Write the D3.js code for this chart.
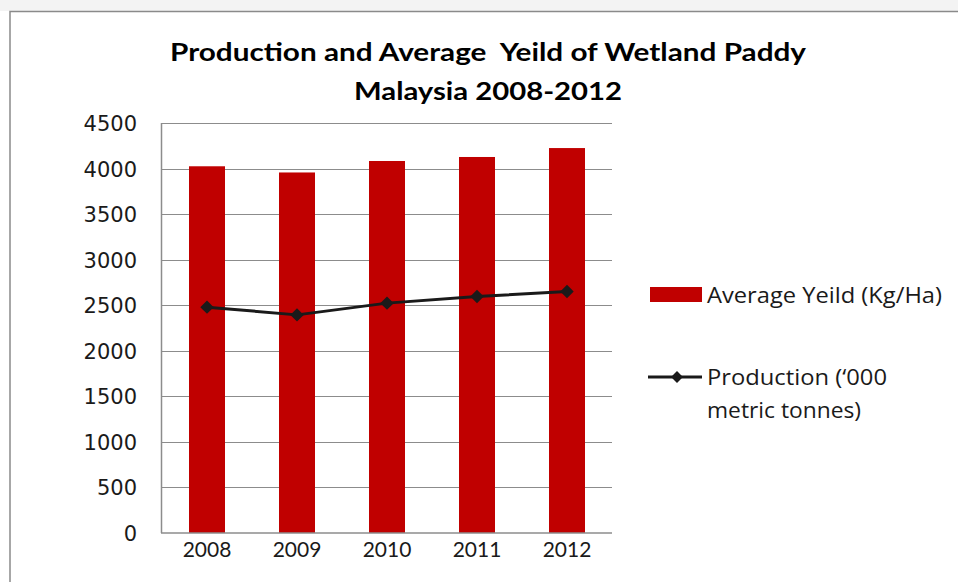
<!DOCTYPE html>
<html>
<head>
<meta charset="utf-8">
<script src="https://cdn.jsdelivr.net/npm/d3@7"></script>
<style>
  html, body { margin: 0; padding: 0; background: #fff; }
  svg { display: block; }
</style>
</head>
<body>
<div id="chart"></div>
<script>
const years = ['2008', '2009', '2010', '2011', '2012'];
const avgYield = [4025, 3957, 4083, 4127, 4225];
const production = [2479, 2394, 2523, 2596, 2651];
const yTicks = [0, 500, 1000, 1500, 2000, 2500, 3000, 3500, 4000, 4500];
const titleLines = ['Production and Average  Yeild of Wetland Paddy', 'Malaysia 2008-2012'];
const legendLabels = ['Average Yeild (Kg/Ha)', ['Production (\u2018000', 'metric tonnes)']];

const W = 958, H = 582;
const RED = '#c00000', GRID = '#8c8c8c', INK = '#1a1a1a';
const TITLE_FONT = 'Lato, "Open Sans", sans-serif';
const TICK_FONT = '"DejaVu Sans", Verdana, sans-serif';
const LEG_FONT = '"Open Sans", "Noto Sans", sans-serif';

const svg = d3.select('#chart').append('svg').attr('width', W).attr('height', H);

// page strip above the chart frame + frame
svg.append('rect').attr('x', 0).attr('y', 0).attr('width', W).attr('height', 11).attr('fill', '#f3f3f3');
svg.append('rect').attr('x', 10).attr('y', 11.5).attr('width', W + 20).attr('height', H + 20)
  .attr('fill', '#fff').attr('stroke', '#8a8a8a').attr('stroke-width', 1.5);

const m = { l: 162, r: 612, t: 123, b: 533 };
const x = d3.scaleBand().domain(years).range([m.l, m.r]).paddingInner(0.6).paddingOuter(0.3);
const y = d3.scaleLinear().domain([0, 4500]).range([m.b, m.t]);

// title
svg.append('g').selectAll('text').data(titleLines).join('text')
  .attr('x', 488).attr('y', (d, i) => 61 + i * 39)
  .attr('text-anchor', 'middle')
  .attr('font-family', TITLE_FONT).attr('font-weight', 700).attr('font-size', 24)
  .attr('fill', '#000')
  .attr('textLength', (d, i) => (i === 0 ? 636 : 268))
  .attr('lengthAdjust', 'spacingAndGlyphs')
  .style('white-space', 'pre')
  .text((d) => d);

// gridlines
svg.append('g').selectAll('line').data(yTicks.filter((d) => d > 0)).join('line')
  .attr('x1', m.l).attr('x2', m.r)
  .attr('y1', (d) => Math.round(y(d)) + 0.5).attr('y2', (d) => Math.round(y(d)) + 0.5)
  .attr('stroke', GRID).attr('stroke-width', 1);

// y tick labels
svg.append('g').selectAll('text').data(yTicks).join('text')
  .attr('x', 137).attr('y', (d) => y(d) + 8)
  .attr('text-anchor', 'end')
  .attr('font-family', TICK_FONT).attr('font-size', 21).attr('fill', INK)
  .text((d) => d);

// bars
svg.append('g').selectAll('rect').data(years).join('rect')
  .attr('x', (d) => x(d)).attr('width', x.bandwidth())
  .attr('y', (d, i) => y(avgYield[i])).attr('height', (d, i) => y(0) - y(avgYield[i]))
  .attr('fill', RED);

// axes lines
svg.append('line').attr('x1', m.l - 0.5).attr('x2', m.l - 0.5).attr('y1', m.t).attr('y2', m.b)
  .attr('stroke', GRID).attr('stroke-width', 1.5);
svg.append('line').attr('x1', m.l - 1).attr('x2', m.r).attr('y1', m.b).attr('y2', m.b)
  .attr('stroke', GRID).attr('stroke-width', 1.5);

// x labels
svg.append('g').selectAll('text').data(years).join('text')
  .attr('x', (d) => x(d) + x.bandwidth() / 2).attr('y', 557)
  .attr('text-anchor', 'middle')
  .attr('font-family', TITLE_FONT).attr('font-size', 21).attr('fill', INK)
  .text((d) => d);

// production line
const cx = (d) => x(d) + x.bandwidth() / 2;
const line = d3.line().x((d) => cx(d[0])).y((d) => y(d[1]));
const pts = years.map((d, i) => [d, production[i]]);
svg.append('path').datum(pts).attr('d', line)
  .attr('fill', 'none').attr('stroke', INK).attr('stroke-width', 3).attr('stroke-linejoin', 'round');
const diamond = d3.symbol().type(d3.symbolDiamond2).size(115);
svg.append('g').selectAll('path').data(pts).join('path')
  .attr('d', diamond)
  .attr('transform', (d) => `translate(${cx(d[0])},${y(d[1])})`)
  .attr('fill', INK);

// legend
const leg = svg.append('g');
leg.append('rect').attr('x', 650).attr('y', 287).attr('width', 52).attr('height', 15).attr('fill', RED);
leg.append('text').attr('x', 707).attr('y', 303)
  .attr('font-family', LEG_FONT).attr('font-size', 22).attr('fill', INK)
  .attr('textLength', 235).attr('lengthAdjust', 'spacingAndGlyphs')
  .text(legendLabels[0]);
leg.append('line').attr('x1', 648).attr('x2', 702).attr('y1', 377).attr('y2', 377)
  .attr('stroke', INK).attr('stroke-width', 3);
leg.append('path').attr('d', d3.symbol().type(d3.symbolDiamond2).size(90)).attr('transform', 'translate(677,377)').attr('fill', INK);
leg.append('g').selectAll('text').data(legendLabels[1]).join('text')
  .attr('x', 707).attr('y', (d, i) => 385 + i * 33)
  .attr('font-family', LEG_FONT).attr('font-size', 22).attr('fill', INK)
  .attr('textLength', (d, i) => (i === 0 ? 180 : 154)).attr('lengthAdjust', 'spacingAndGlyphs')
  .text((d) => d);
</script>
</body>
</html>
